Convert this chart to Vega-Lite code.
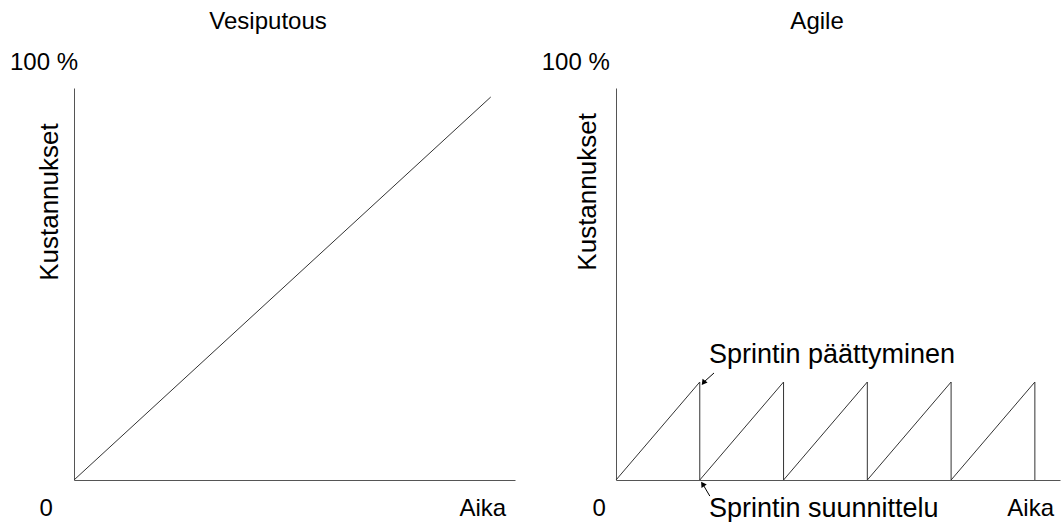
{
  "$schema": "https://vega.github.io/schema/vega-lite/v6.json",
  "background": "white",
  "padding": {"left": 9, "top": 10, "right": 3, "bottom": 0},
  "spacing": 26,
  "config": {
    "view": {"stroke": null},
    "font": "Liberation Sans",
    "axis": {"labels": false, "ticks": false, "grid": false, "title": null, "domainColor": "#555", "domainWidth": 1}
  },
  "datasets": {
    "waterfall": [{"t": 0, "cost": 0}, {"t": 94.5, "cost": 97.7}],
    "leftLabels": [
      {"x": 44, "y": 116.8, "label": "Vesiputous"},
      {"x": -6.8, "y": 106.4, "label": "100 %"},
      {"x": -6.3, "y": -7.4, "label": "0"},
      {"x": 92.7, "y": -7.4, "label": "Aika"}
    ],
    "leftAxisTitle": [{"x": -5.4, "y": 70.9, "label": "Kustannukset"}],
    "sawtooth": [
      {"i": 0, "t": 0, "cost": 0},
      {"i": 1, "t": 1, "cost": 25},
      {"i": 2, "t": 1, "cost": 0},
      {"i": 3, "t": 2, "cost": 25},
      {"i": 4, "t": 2, "cost": 0},
      {"i": 5, "t": 3, "cost": 25},
      {"i": 6, "t": 3, "cost": 0},
      {"i": 7, "t": 4, "cost": 25},
      {"i": 8, "t": 4, "cost": 0},
      {"i": 9, "t": 5, "cost": 25},
      {"i": 10, "t": 5, "cost": 0}
    ],
    "rightLabels": [
      {"x": 2.4, "y": 116.8, "label": "Agile"},
      {"x": -0.48, "y": 106.4, "label": "100 %"},
      {"x": -0.2, "y": -7.4, "label": "0"},
      {"x": 4.95, "y": -7.4, "label": "Aika"}
    ],
    "annotations": [
      {"x": 1.11, "y": 31.9, "label": "Sprintin päättyminen"},
      {"x": 1.11, "y": -7.4, "label": "Sprintin suunnittelu"}
    ],
    "rightAxisTitle": [{"x": -0.33, "y": 73.5, "label": "Kustannukset"}],
    "arrows": [
      {"name": "end", "x": 1.17, "y": 27.3, "x2": 1.05, "y2": 25.0},
      {"name": "plan", "x": 1.12, "y": -4.1, "x2": 1.04, "y2": -1.2}
    ]
  },
  "hconcat": [
    {
      "width": 441,
      "height": 392,
      "layer": [
        {
          "data": {"name": "waterfall"},
          "mark": {"type": "line", "color": "#333", "strokeWidth": 1},
          "encoding": {
            "x": {"field": "t", "type": "quantitative", "scale": {"domain": [0, 100], "nice": false, "zero": false}},
            "y": {"field": "cost", "type": "quantitative", "scale": {"domain": [0, 100], "nice": false, "zero": false}}
          }
        },
        {
          "data": {"name": "leftLabels"},
          "mark": {"type": "text", "clip": false, "fontSize": 24, "color": "#000", "align": "center", "baseline": "middle"},
          "encoding": {
            "x": {"field": "x", "type": "quantitative"},
            "y": {"field": "y", "type": "quantitative"},
            "text": {"field": "label"}
          }
        },
        {
          "data": {"name": "leftAxisTitle"},
          "mark": {"type": "text", "clip": false, "fontSize": 26, "color": "#000", "align": "center", "baseline": "middle", "angle": 270},
          "encoding": {
            "x": {"field": "x", "type": "quantitative"},
            "y": {"field": "y", "type": "quantitative"},
            "text": {"field": "label"}
          }
        }
      ]
    },
    {
      "width": 444,
      "height": 392,
      "layer": [
        {
          "data": {"name": "sawtooth"},
          "mark": {"type": "line", "color": "#333", "strokeWidth": 1},
          "encoding": {
            "x": {"field": "t", "type": "quantitative", "scale": {"domain": [0, 5.3], "nice": false, "zero": false}},
            "y": {"field": "cost", "type": "quantitative", "scale": {"domain": [0, 100], "nice": false, "zero": false}},
            "order": {"field": "i", "type": "quantitative"}
          }
        },
        {
          "data": {"name": "rightLabels"},
          "mark": {"type": "text", "clip": false, "fontSize": 24, "color": "#000", "align": "center", "baseline": "middle"},
          "encoding": {
            "x": {"field": "x", "type": "quantitative"},
            "y": {"field": "y", "type": "quantitative"},
            "text": {"field": "label"}
          }
        },
        {
          "data": {"name": "annotations"},
          "mark": {"type": "text", "clip": false, "fontSize": 27, "color": "#000", "align": "left", "baseline": "middle"},
          "encoding": {
            "x": {"field": "x", "type": "quantitative"},
            "y": {"field": "y", "type": "quantitative"},
            "text": {"field": "label"}
          }
        },
        {
          "data": {"name": "rightAxisTitle"},
          "mark": {"type": "text", "clip": false, "fontSize": 26, "color": "#000", "align": "center", "baseline": "middle", "angle": 270},
          "encoding": {
            "x": {"field": "x", "type": "quantitative"},
            "y": {"field": "y", "type": "quantitative"},
            "text": {"field": "label"}
          }
        },
        {
          "data": {"name": "arrows"},
          "mark": {"type": "rule", "clip": false, "color": "#000", "strokeWidth": 1},
          "encoding": {
            "x": {"field": "x", "type": "quantitative"},
            "y": {"field": "y", "type": "quantitative"},
            "x2": {"field": "x2"},
            "y2": {"field": "y2"}
          }
        },
        {
          "data": {"name": "arrows"},
          "transform": [{"filter": "datum.name === 'end'"}],
          "mark": {"type": "point", "clip": false, "shape": "triangle", "filled": true, "color": "#000", "size": 40, "angle": 217, "opacity": 1},
          "encoding": {
            "x": {"field": "x2", "type": "quantitative"},
            "y": {"field": "y2", "type": "quantitative"}
          }
        },
        {
          "data": {"name": "arrows"},
          "transform": [{"filter": "datum.name === 'plan'"}],
          "mark": {"type": "point", "clip": false, "shape": "triangle", "filled": true, "color": "#000", "size": 40, "angle": 327, "opacity": 1},
          "encoding": {
            "x": {"field": "x2", "type": "quantitative"},
            "y": {"field": "y2", "type": "quantitative"}
          }
        }
      ]
    }
  ]
}
